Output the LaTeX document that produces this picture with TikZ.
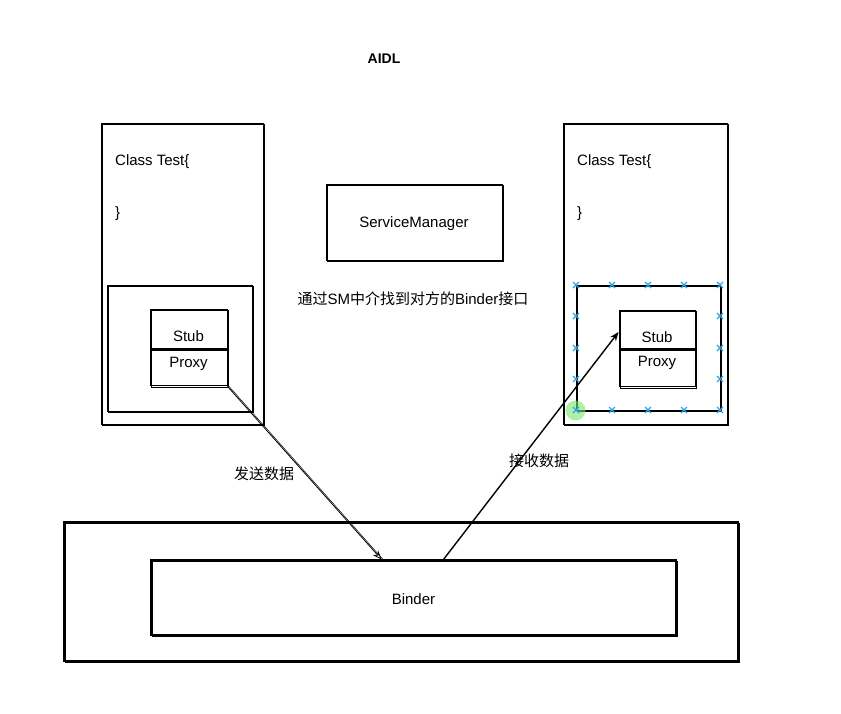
\documentclass[tikz,border=0pt]{standalone}
\usepackage{fontspec}
\setmainfont{Liberation Sans}
\newfontfamily\cjk{Noto Sans CJK SC}
\usepackage{xcolor}
\usetikzlibrary{arrows.meta}
\usetikzlibrary{positioning}

\definecolor{selblue}{RGB}{40,165,235}
\definecolor{selgreen}{RGB}{120,230,110}

\begin{document}
\begin{tikzpicture}[x=1pt,y=-1pt,
        sketch/.style={draw, line width=0.9pt,
            preaction={draw, line width=0.6pt, transform canvas={shift={(1.6pt,-1.4pt)}}}},
        box/.style={sketch, inner sep=0pt, font=\fontsize{15}{17}\selectfont},
        lbl/.style={inner sep=0pt, font=\fontsize{15}{17}\selectfont},
        flow/.style={line width=0.8pt, -{Stealth[open,length=9pt,width=7pt]}}]
        \useasboundingbox (0,0) rectangle (841,713);

        \node[lbl, font=\fontsize{14}{16}\selectfont\bfseries] (title) at (384,59) {AIDL};

        % left side
        \node[box, minimum width=162, minimum height=301] (lclass) at (182,273.5) {};
        \node[lbl, anchor=west] (ltop) at (115,162) {Class Test\{};
        \node[lbl, anchor=west] (lend) at (115,214) {\}};
        \node[box, minimum width=145, minimum height=126] (linner) at (179.5,348) {};
        \node[box, minimum width=77, minimum height=39,
            label={[lbl, yshift=-8]center:Stub}] (lstub) at (188.5,328.5) {};
        \node[box, minimum width=77, minimum height=37, below=0pt of lstub,
            label={[lbl, yshift=4]center:Proxy}] (lproxy) {};

        % middle
        \node[box, minimum width=176, minimum height=76,
            label={[lbl, yshift=-2]center:ServiceManager}] (sm) at (414,222) {};
        \node[lbl] (smtxt) at (413,299) {{\cjk 通过}SM{\cjk 中介找到对方的}Binder{\cjk 接口}};

        % right side
        \node[box, minimum width=164, minimum height=301] (rclass) at (645,273.5) {};
        \node[lbl, anchor=west] (rtop) at (577,162) {Class Test\{};
        \node[lbl, anchor=west] (rend) at (577,214) {\}};
        \node[box, minimum width=144, minimum height=125] (rinner) at (648,347.5) {};
        \node[box, minimum width=76, minimum height=38,
            label={[lbl, yshift=-8]center:Stub}] (rstub) at (657,329) {};
        \node[box, minimum width=76, minimum height=38, below=0pt of rstub,
            label={[lbl, yshift=5]center:Proxy}] (rproxy) {};

        % binder
        \node[box, minimum width=674, minimum height=139, line width=1.1pt] (kernel) at (401,591.5) {};
        \node[box, minimum width=525, minimum height=75, line width=1.1pt,
            label={[lbl, yshift=-2]center:Binder}] (binder) at (413.5,597.5) {};

        \coordinate (sendend) at ([xshift=-32pt]binder.north);
        \coordinate (recvstart) at ([xshift=30pt]binder.north);
        \draw[flow, preaction={draw, -, line width=0.5pt, transform canvas={shift={(1.5pt,0pt)}}}]
            (lproxy.south east) -- (sendend);
        \draw[flow, line width=1.4pt] (recvstart) -- ([yshift=-3pt]rstub.west);
        \node[lbl, font=\fontsize{15}{17}\selectfont\cjk] (send) at (264,474) {发送数据};
        \node[lbl, font=\fontsize{15}{17}\selectfont\cjk] (recv) at (539,461) {接收数据};

        % selection handles
        \fill[selgreen, fill opacity=0.6] (rinner.south west) circle (10);
        \foreach \x in {576,612,648,684,720}{
            \foreach \y in {285,410}{
                \draw[selblue, line width=1.1pt] (\x-3,\y-3) -- ++(6,6) (\x-3,\y+3) -- ++(6,-6);
            }
        }
        \foreach \x in {576,720}{
            \foreach \y in {316,348,379}{
                \draw[selblue, line width=1.1pt] (\x-3,\y-3) -- ++(6,6) (\x-3,\y+3) -- ++(6,-6);
            }
        }
    \end{tikzpicture}
\end{document}
